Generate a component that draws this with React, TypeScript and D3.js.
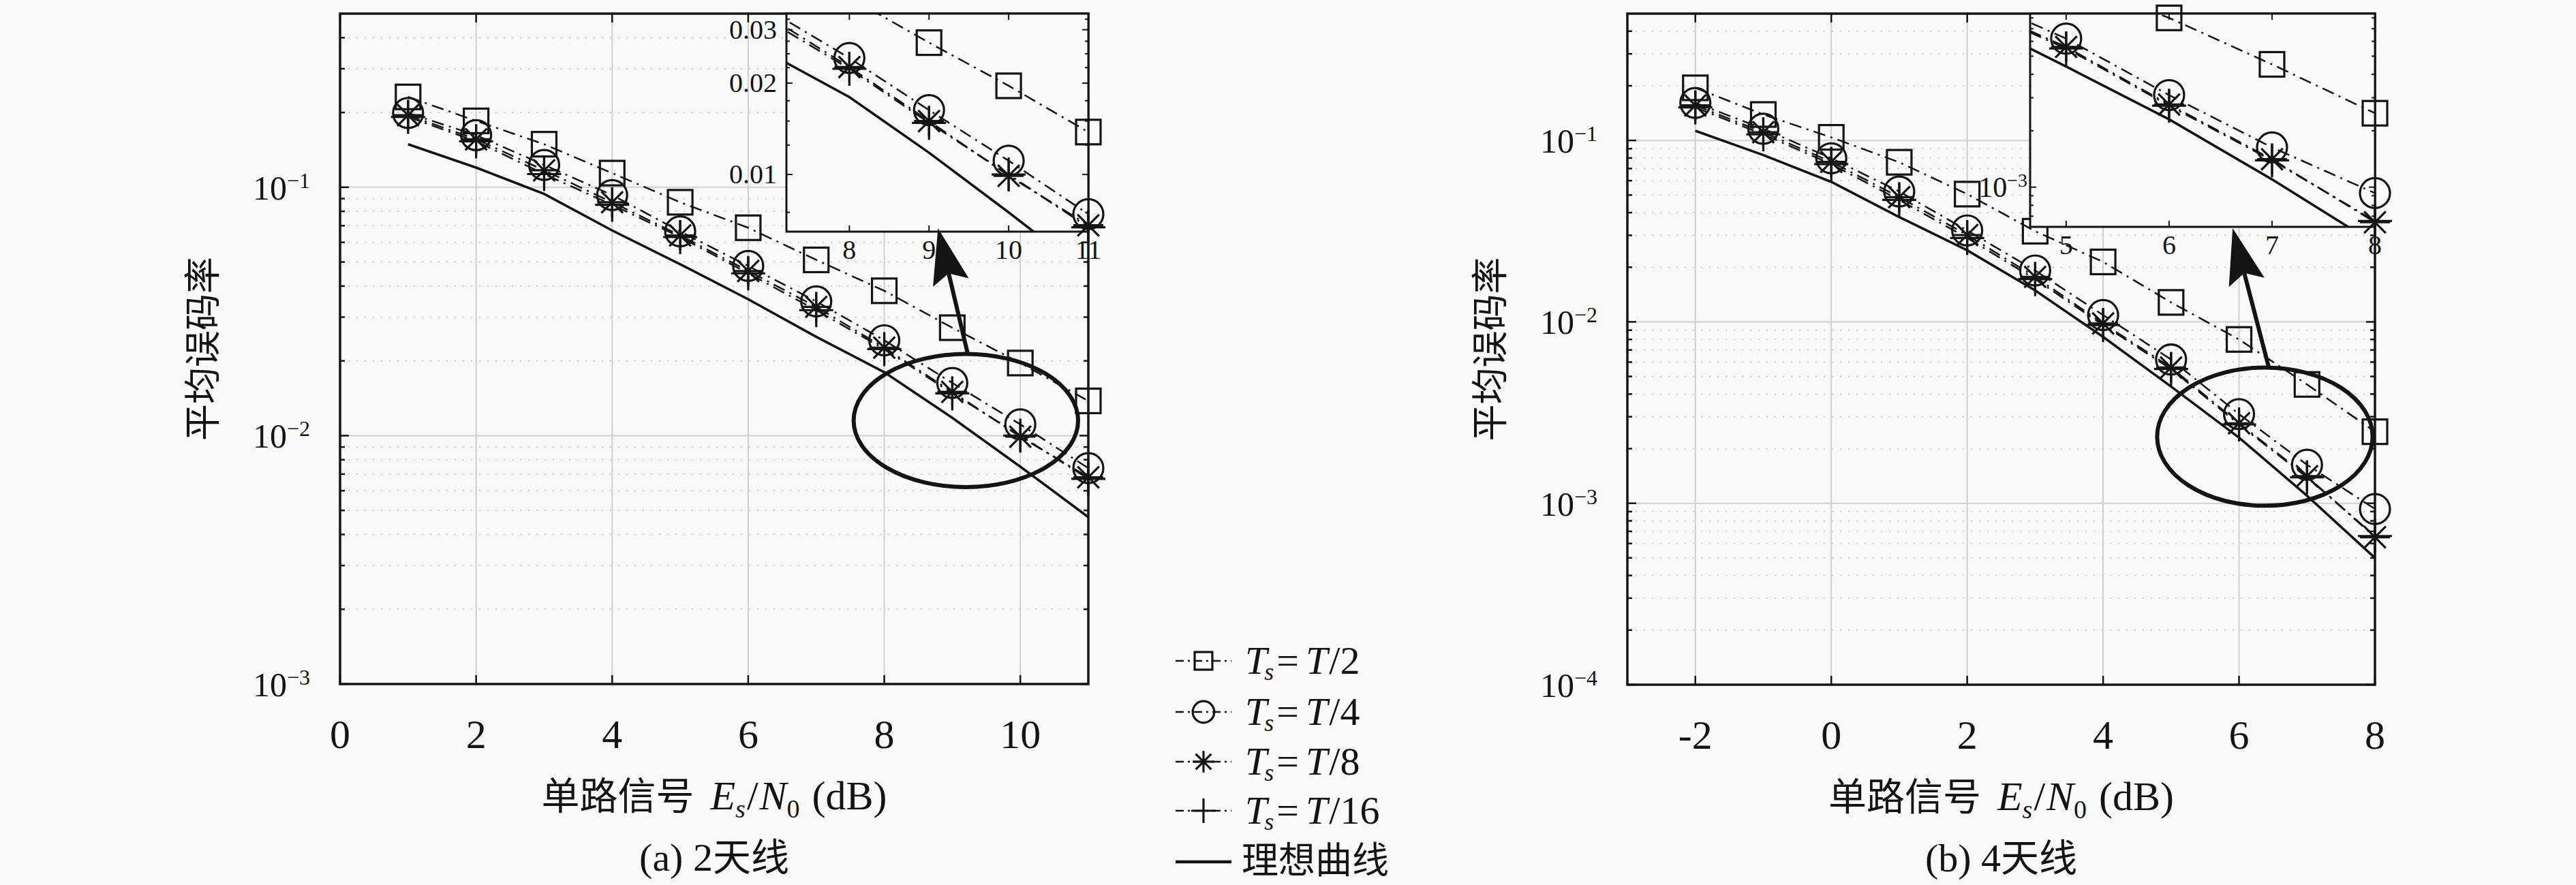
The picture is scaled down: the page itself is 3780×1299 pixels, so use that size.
import * as d3 from "d3";

// ---------------- data: (a) 2 antennas ----------------
const SNR_A = [1, 2, 3, 4, 5, 6, 7, 8, 9, 10, 11];
const BER_A_T2 = [0.231, 0.185, 0.149, 0.114, 0.087, 0.0687, 0.051, 0.0383, 0.0272, 0.0196, 0.0138];
const BER_A_T4 = [0.199, 0.162, 0.123, 0.093, 0.0664, 0.0482, 0.0347, 0.0242, 0.0163, 0.0111, 0.0074];
const BER_A_T8 = [0.195, 0.156, 0.117, 0.087, 0.064, 0.046, 0.033, 0.0226, 0.015, 0.0099, 0.0068];
const BER_A_T16 = [0.192, 0.153, 0.113, 0.085, 0.063, 0.045, 0.032, 0.0223, 0.0148, 0.01, 0.0067];
const BER_A_IDEAL = [0.149, 0.12, 0.094, 0.067, 0.049, 0.0354, 0.025, 0.018, 0.0118, 0.0075, 0.0047];

// ---------------- data: (b) 4 antennas ----------------
const SNR_B = [-2, -1, 0, 1, 2, 3, 4, 5, 6, 7, 8];
const BER_B_T2 = [0.195, 0.139, 0.104, 0.0758, 0.0506, 0.0316, 0.0214, 0.0128, 0.008, 0.00452, 0.00248];
const BER_B_T4 = [0.161, 0.116, 0.0797, 0.0523, 0.0319, 0.0192, 0.0109, 0.0062, 0.0031, 0.00163, 0.00093];
const BER_B_T8 = [0.156, 0.111, 0.0762, 0.0487, 0.0301, 0.0177, 0.0098, 0.0056, 0.00276, 0.00141, 0.00065];
const BER_B_T16 = [0.152, 0.108, 0.074, 0.047, 0.029, 0.0172, 0.0096, 0.0055, 0.00272, 0.00139, 0.00066];
const BER_B_IDEAL = [0.113, 0.083, 0.0591, 0.0378, 0.0248, 0.0149, 0.00826, 0.0044, 0.0023, 0.0011, 0.0005];

// ---------------- ticks & labels ----------------
const X_TICKS_A = [0, 2, 4, 6, 8, 10];
const X_TICKS_B = [-2, 0, 2, 4, 6, 8];
const Y_EXPONENTS_A = [-1, -2, -3];
const Y_EXPONENTS_B = [-1, -2, -3, -4];
const INSET_X_TICKS_A = [8, 9, 10, 11];
const INSET_Y_TICKS_A = [0.01, 0.02, 0.03];
const INSET_X_TICKS_B = [5, 6, 7, 8];
const INSET_Y_EXPONENTS_B = [-3];
const LEGEND_DIVISORS = ["2", "4", "8", "16"];
const IDEAL_LABEL = "理想曲线";
const Y_LABEL = "平均误码率";
const X_LABEL_CN = "单路信号";
const SUBTITLE_A = ["(a) 2", "天线"];
const SUBTITLE_B = ["(b) 4", "天线"];

// zoom annotations, data coords: [cx, cy, rx (dB), ry (decades)] and arrow [x1, y1, x2, y2]
const ELLIPSE_A = [9.2, 0.0115, 1.65, 0.268];
const ARROW_A = [9.23, 0.0212, 8.79, 0.0684];
const ELLIPSE_B = [6.38, 0.00233, 1.585, 0.381];
const ARROW_B = [6.44, 0.00557, 5.906, 0.0328];

const FONT_SERIF = "'Liberation Serif', 'DejaVu Serif', serif";
const FONT_CJK = "'Noto Sans CJK SC', 'Noto Sans CJK JP', sans-serif";
const INK = "#141414";
const BG = "#f9f9f9";
const DASHDOT = "18 8 3 8";
const MARKERS = ["square", "circle", "asterisk", "plus"];

function logMinor(domain: number[]) {
  const out: number[] = [];
  const lo = Math.floor(Math.log10(domain[0]));
  const hi = Math.ceil(Math.log10(domain[1]));
  for (let e = lo; e <= hi; e++) {
    for (let k = 2; k <= 9; k++) {
      const v = k * Math.pow(10, e);
      if (v > domain[0] * 1.0001 && v < domain[1] * 0.9999) out.push(v);
    }
  }
  return out;
}

function Marker({ kind, x, y, big = true }: { kind: string; x: number; y: number; big?: boolean }) {
  const k = big ? 1 : 0.72;
  const st = { fill: "none", stroke: INK, strokeWidth: 3.2 };
  if (kind === "square") {
    const h = 18 * k;
    return <rect x={x - h} y={y - h} width={2 * h} height={2 * h} {...st} />;
  }
  if (kind === "circle") return <circle cx={x} cy={y} r={22 * k} {...st} />;
  if (kind === "asterisk") {
    const h = 22 * k;
    const d = h * 0.72;
    return (
      <g {...st}>
        <line x1={x - h} x2={x + h} y1={y} y2={y} />
        <line x1={x} x2={x} y1={y - h} y2={y + h} />
        <line x1={x - d} x2={x + d} y1={y - d} y2={y + d} />
        <line x1={x - d} x2={x + d} y1={y + d} y2={y - d} />
      </g>
    );
  }
  const h = 25 * k;
  return (
    <g {...st}>
      <line x1={x - h} x2={x + h} y1={y} y2={y} />
      <line x1={x} x2={x} y1={y - h} y2={y + h} />
    </g>
  );
}

function Arrow({ x1, y1, x2, y2 }: { x1: number; y1: number; x2: number; y2: number }) {
  const dx = x2 - x1;
  const dy = y2 - y1;
  const L = Math.hypot(dx, dy);
  const ux = dx / L;
  const uy = dy / L;
  const nx = -uy;
  const ny = ux;
  const hl = 82;
  const hw = 27;
  const bx = x2 - ux * hl;
  const by = y2 - uy * hl;
  const pts = [
    [x2, y2],
    [bx + nx * hw, by + ny * hw],
    [bx + ux * 14, by + uy * 14],
    [bx - nx * hw, by - ny * hw],
  ];
  return (
    <g>
      <line x1={x1} y1={y1} x2={bx + ux * 16} y2={by + uy * 16} stroke={INK} strokeWidth={6} />
      <polygon points={pts.map((p) => p.join(",")).join(" ")} fill={INK} />
    </g>
  );
}

function Pow10({ x, y, e, size, supSize, anchor = "end" }: any) {
  return (
    <text x={x} y={y} textAnchor={anchor} fontFamily={FONT_SERIF} fontSize={size} fill={INK}>
      10
      <tspan fontSize={supSize} dy={-size * 0.34}>
        {"\u2212" + Math.abs(e)}
      </tspan>
    </text>
  );
}

interface InsetCfg {
  id: string;
  left: number;
  right: number;
  top: number;
  bottom: number;
  xDomain: number[];
  yDomain: number[];
  xTicks: number[];
  yTicks?: number[];
  yExps?: number[];
  minorLinear?: number;
}

interface PanelCfg {
  id: string;
  left: number;
  right: number;
  top: number;
  bottom: number;
  xDomain: number[];
  yDomain: number[];
  xTicks: number[];
  yExps: number[];
  snr: number[];
  series: number[][];
  ideal: number[];
  inset: InsetCfg;
  ellipse: number[];
  arrow: number[];
  subtitle: string[];
}

function Curves({ x, y, snr, series, ideal, clipId, inRange }: any) {
  const line = d3
    .line<[number, number]>()
    .x((d) => x(d[0]))
    .y((d) => y(d[1]));
  return (
    <g>
      <g clipPath={`url(#${clipId})`}>
        {series.map((vals: number[], i: number) => (
          <path
            key={"l" + i}
            d={line(snr.map((s: number, j: number) => [s, vals[j]]))!}
            fill="none"
            stroke={INK}
            strokeWidth={2.5}
            strokeDasharray={DASHDOT}
          />
        ))}
        <path
          d={line(snr.map((s: number, j: number) => [s, ideal[j]]))!}
          fill="none"
          stroke={INK}
          strokeWidth={3.6}
        />
      </g>
      {series.map((vals: number[], i: number) =>
        snr.map((s: number, j: number) =>
          inRange(s, vals[j]) ? (
            <Marker key={`m${i}-${j}`} kind={MARKERS[i]} x={x(s)} y={y(vals[j])} />
          ) : null
        )
      )}
    </g>
  );
}

function Inset({ c, p }: { c: InsetCfg; p: PanelCfg }) {
  const x = d3.scaleLinear().domain(c.xDomain).range([c.left, c.right]);
  const y = d3.scaleLog().domain(c.yDomain).range([c.bottom, c.top]);
  const clipId = "clip-" + c.id;
  const inRange = (a: number, b: number) =>
    a >= c.xDomain[0] - 1e-9 && a <= c.xDomain[1] + 1e-9 && b >= c.yDomain[0] && b <= c.yDomain[1];
  let minor: number[] = [];
  if (c.minorLinear) {
    const step = c.minorLinear;
    for (let v = step; v < c.yDomain[1]; v += step) {
      if (v > c.yDomain[0] && !(c.yTicks || []).some((t) => Math.abs(t - v) < 1e-9)) minor.push(v);
    }
  } else {
    minor = logMinor(c.yDomain);
  }
  const majorY = c.yTicks ? c.yTicks : (c.yExps || []).map((e) => Math.pow(10, e));
  return (
    <g>
      <defs>
        <clipPath id={clipId}>
          <rect x={c.left} y={c.top} width={c.right - c.left} height={c.bottom - c.top} />
        </clipPath>
      </defs>
      <rect x={c.left} y={c.top} width={c.right - c.left} height={c.bottom - c.top} fill={BG} />
      <Curves x={x} y={y} snr={p.snr} series={p.series} ideal={p.ideal} clipId={clipId} inRange={inRange} />
      <g stroke={INK} strokeWidth={2}>
        {c.xTicks.map((t) => (
          <g key={"ixt" + t}>
            <line x1={x(t)} x2={x(t)} y1={c.bottom} y2={c.bottom - 9} />
            <line x1={x(t)} x2={x(t)} y1={c.top} y2={c.top + 9} />
          </g>
        ))}
        {majorY.map((t) => (
          <g key={"iyt" + t}>
            <line x1={c.left} x2={c.left + 9} y1={y(t)} y2={y(t)} />
            <line x1={c.right} x2={c.right - 9} y1={y(t)} y2={y(t)} />
          </g>
        ))}
        {minor.map((t) => (
          <g key={"iym" + t}>
            <line x1={c.left} x2={c.left + 5} y1={y(t)} y2={y(t)} />
            <line x1={c.right} x2={c.right - 5} y1={y(t)} y2={y(t)} />
          </g>
        ))}
      </g>
      <rect
        x={c.left}
        y={c.top}
        width={c.right - c.left}
        height={c.bottom - c.top}
        fill="none"
        stroke={INK}
        strokeWidth={3}
      />
      {c.xTicks.map((t) => (
        <text
          key={"ixl" + t}
          x={x(t)}
          y={c.bottom + 40}
          textAnchor="middle"
          fontFamily={FONT_SERIF}
          fontSize={40}
          fill={INK}
        >
          {t}
        </text>
      ))}
      {c.yTicks &&
        c.yTicks.map((t) => (
          <text
            key={"iyl" + t}
            x={c.left - 14}
            y={y(t) + 13}
            textAnchor="end"
            fontFamily={FONT_SERIF}
            fontSize={40}
            fill={INK}
          >
            {d3.format(".2f")(t)}
          </text>
        ))}
      {c.yExps &&
        c.yExps.map((e) => (
          <Pow10 key={"iye" + e} x={c.left - 4} y={y(Math.pow(10, e)) + 14} e={e} size={42} supSize={28} />
        ))}
    </g>
  );
}

function Panel({ p }: { p: PanelCfg }) {
  const { left, right, top, bottom } = p;
  const x = d3.scaleLinear().domain(p.xDomain).range([left, right]);
  const y = d3.scaleLog().domain(p.yDomain).range([bottom, top]);
  const minor = logMinor(p.yDomain);
  const clipId = "clip-" + p.id;
  const inRange = (a: number, b: number) =>
    a >= p.xDomain[0] && a <= p.xDomain[1] && b >= p.yDomain[0] && b <= p.yDomain[1];
  const cx = (left + right) / 2;
  const [ex, ey, erx, ery] = p.ellipse;
  const [a1, b1, a2, b2] = p.arrow;
  return (
    <g>
      <defs>
        <clipPath id={clipId}>
          <rect x={left} y={top} width={right - left} height={bottom - top} />
        </clipPath>
      </defs>
      {/* minor grid */}
      {minor.map((v) => (
        <line
          key={"mg" + v}
          x1={left}
          x2={right}
          y1={y(v)}
          y2={y(v)}
          stroke="#c4c4c4"
          strokeWidth={1.6}
          strokeDasharray="2 10"
        />
      ))}
      {/* major grid */}
      {p.yExps.map((e) => (
        <line
          key={"gy" + e}
          x1={left}
          x2={right}
          y1={y(Math.pow(10, e))}
          y2={y(Math.pow(10, e))}
          stroke="#cfcfcf"
          strokeWidth={2}
        />
      ))}
      {p.xTicks.map((t) => (
        <line key={"gx" + t} x1={x(t)} x2={x(t)} y1={top} y2={bottom} stroke="#cfcfcf" strokeWidth={2} />
      ))}
      <Curves x={x} y={y} snr={p.snr} series={p.series} ideal={p.ideal} clipId={clipId} inRange={inRange} />
      {/* ticks */}
      <g stroke={INK} strokeWidth={2.5}>
        {p.xTicks.map((t) => (
          <g key={"xt" + t}>
            <line x1={x(t)} x2={x(t)} y1={bottom} y2={bottom - 13} />
            <line x1={x(t)} x2={x(t)} y1={top} y2={top + 13} />
          </g>
        ))}
        {p.yExps.map((e) => (
          <g key={"yt" + e}>
            <line x1={left} x2={left + 13} y1={y(Math.pow(10, e))} y2={y(Math.pow(10, e))} />
            <line x1={right} x2={right - 13} y1={y(Math.pow(10, e))} y2={y(Math.pow(10, e))} />
          </g>
        ))}
        {minor.map((v) => (
          <g key={"ym" + v}>
            <line x1={left} x2={left + 7} y1={y(v)} y2={y(v)} />
            <line x1={right} x2={right - 7} y1={y(v)} y2={y(v)} />
          </g>
        ))}
      </g>
      <rect x={left} y={top} width={right - left} height={bottom - top} fill="none" stroke={INK} strokeWidth={3.5} />
      {/* tick labels */}
      {p.xTicks.map((t) => (
        <text
          key={"xl" + t}
          x={x(t)}
          y={bottom + 94}
          textAnchor="middle"
          fontFamily={FONT_SERIF}
          fontSize={60}
          fill={INK}
        >
          {t < 0 ? "-" + Math.abs(t) : t}
        </text>
      ))}
      {p.yExps.map((e) => (
        <Pow10 key={"yl" + e} x={left - 44} y={y(Math.pow(10, e)) + 18} e={e} size={50} supSize={32} />
      ))}
      {/* axis titles */}
      <text
        x={left - 206}
        y={(top + bottom) / 2}
        transform={`rotate(-90 ${left - 206} ${(top + bottom) / 2})`}
        textAnchor="middle"
        dominantBaseline="central"
        fontFamily={FONT_CJK}
        fontSize={54}
        fill={INK}
      >
        {Y_LABEL}
      </text>
      <text x={cx} y={bottom + 184} textAnchor="middle" fontFamily={FONT_SERIF} fontSize={60} fill={INK}>
        <tspan fontFamily={FONT_CJK} fontSize={56}>
          {X_LABEL_CN}
        </tspan>
        <tspan dx={24} fontStyle="italic">
          E
        </tspan>
        <tspan fontStyle="italic" fontSize={38} dy={12}>
          s
        </tspan>
        <tspan dy={-12} dx={2}>
          /
        </tspan>
        <tspan fontStyle="italic" dx={2}>
          N
        </tspan>
        <tspan fontSize={38} dy={12}>
          0
        </tspan>
        <tspan dy={-12} dx={18}>
          (dB)
        </tspan>
      </text>
      <text x={cx} y={bottom + 274} textAnchor="middle" fontFamily={FONT_SERIF} fontSize={58} fill={INK}>
        {p.subtitle[0]}
        <tspan fontFamily={FONT_CJK} fontSize={56}>
          {p.subtitle[1]}
        </tspan>
      </text>
      <Inset c={p.inset} p={p} />
      {/* zoom annotation */}
      <ellipse
        cx={x(ex)}
        cy={y(ey)}
        rx={x(ex + erx) - x(ex)}
        ry={y(ey) - y(ey * Math.pow(10, ery))}
        fill="none"
        stroke={INK}
        strokeWidth={6}
      />
      <Arrow x1={x(a1)} y1={y(b1)} x2={x(a2)} y2={y(b2)} />
    </g>
  );
}

function Legend() {
  const x0 = 1725;
  const x1 = 1807;
  const mx = 1766;
  const tx = 1827;
  const rows = [970, 1045, 1118, 1190, 1265];
  return (
    <g>
      {LEGEND_DIVISORS.map((dv, i) => (
        <g key={"lg" + i}>
          <line x1={x0} x2={x1} y1={rows[i]} y2={rows[i]} stroke={INK} strokeWidth={2.5} strokeDasharray="12 6 3 6" />
          <Marker kind={MARKERS[i]} x={mx} y={rows[i]} big={false} />
          <text x={tx} y={rows[i] + 19} fontFamily={FONT_SERIF} fontSize={58} fill={INK}>
            <tspan fontStyle="italic">T</tspan>
            <tspan fontStyle="italic" fontSize={36} dy={9} dx={-4}>
              s
            </tspan>
            <tspan dy={-9} dx={4}>
              =
            </tspan>
            <tspan fontStyle="italic" dx={10}>
              T
            </tspan>
            <tspan dx={2}>{"/" + dv}</tspan>
          </text>
        </g>
      ))}
      <line x1={x0} x2={x1} y1={rows[4]} y2={rows[4]} stroke={INK} strokeWidth={4.5} />
      <text x={tx - 5} y={rows[4] + 17} fontFamily={FONT_CJK} fontSize={54} fill={INK}>
        {IDEAL_LABEL}
      </text>
    </g>
  );
}

const PANEL_A: PanelCfg = {
  id: "a",
  left: 499,
  right: 1597,
  top: 20,
  bottom: 1004,
  xDomain: [0, 11],
  yDomain: [1e-3, 0.5],
  xTicks: X_TICKS_A,
  yExps: Y_EXPONENTS_A,
  snr: SNR_A,
  series: [BER_A_T2, BER_A_T4, BER_A_T8, BER_A_T16],
  ideal: BER_A_IDEAL,
  inset: {
    id: "ia",
    left: 1154,
    right: 1597,
    top: 20,
    bottom: 340,
    xDomain: [7.21, 11],
    yDomain: [0.00648, 0.0339],
    xTicks: INSET_X_TICKS_A,
    yTicks: INSET_Y_TICKS_A,
    minorLinear: 0.0025,
  },
  ellipse: ELLIPSE_A,
  arrow: ARROW_A,
  subtitle: SUBTITLE_A,
};

const PANEL_B: PanelCfg = {
  id: "b",
  left: 2388,
  right: 3485,
  top: 20,
  bottom: 1005,
  xDomain: [-3, 8],
  yDomain: [1e-4, 0.5],
  xTicks: X_TICKS_B,
  yExps: Y_EXPONENTS_B,
  snr: SNR_B,
  series: [BER_B_T2, BER_B_T4, BER_B_T8, BER_B_T16],
  ideal: BER_B_IDEAL,
  inset: {
    id: "ib",
    left: 2979,
    right: 3485,
    top: 20,
    bottom: 333,
    xDomain: [4.65, 8],
    yDomain: [0.000614, 0.00843],
    xTicks: INSET_X_TICKS_B,
    yExps: INSET_Y_EXPONENTS_B,
  },
  ellipse: ELLIPSE_B,
  arrow: ARROW_B,
  subtitle: SUBTITLE_B,
};

export default function App() {
  return (
    <svg
      width={3780}
      height={1299}
      viewBox="0 0 3780 1299"
      style={{ position: "absolute", left: 0, top: 0, display: "block" }}
    >
      <rect x={0} y={0} width={3780} height={1299} fill={BG} />
      <Panel p={PANEL_A} />
      <Panel p={PANEL_B} />
      <Legend />
    </svg>
  );
}
